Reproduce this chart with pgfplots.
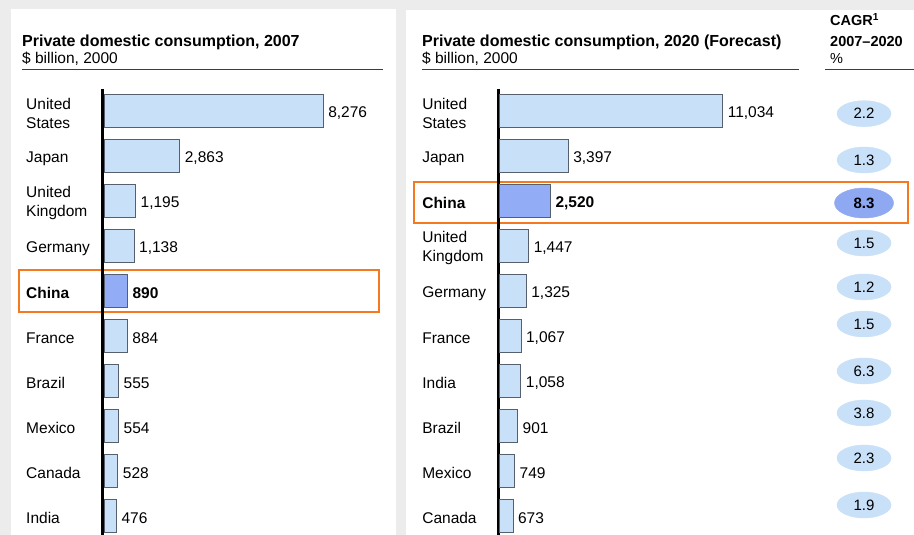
\documentclass[border=0pt]{standalone}
\usepackage{fontspec}
\setmainfont{Liberation Sans}
\usepackage{pgfplots}
\usepackage{pgfplotstable}
\pgfplotsset{compat=1.18}
\definecolor{bgray}{RGB}{236,236,236}
\definecolor{barblue}{RGB}{200,224,248}
\definecolor{chinablue}{RGB}{146,172,246}
\definecolor{baredge}{RGB}{85,95,110}
\definecolor{obox}{RGB}{244,121,32}
\definecolor{ell}{RGB}{200,224,248}
\definecolor{ellc}{RGB}{143,168,242}
\definecolor{rulec}{RGB}{60,60,60}

\pgfplotstableread{
v r lab
8276 0 8,276
2863 1 2,863
1195 2 1,195
1138 3 1,138
884 5 884
555 6 555
554 7 554
528 8 528
476 9 476
}\lefttab
\pgfplotstableread{
v r lab
890 4 890
}\leftchina
\pgfplotstableread{
v r lab
11034 0 11,034
3397 1 3,397
1447 3 1,447
1325 4 1,325
1067 5 1,067
1058 6 1,058
901 7 901
749 8 749
673 9 673
}\righttab
\pgfplotstableread{
v r lab
2520 2 2,520
}\rightchina
\pgfplotstableread{
x r lab
0 0.053 2.2
0 1.082 1.3
0 2.927 1.5
0 3.904 1.2
0 4.727 1.5
0 5.771 6.3
0 6.704 3.8
0 7.704 2.3
0 8.749 1.9
}\cagrtab
\pgfplotstableread{
x r lab
0 2.038 8.3
}\cagrchina

\newcommand{\lblfont}{\fontsize{15.5bp}{18.7bp}\selectfont}
\pgfplotsset{
  panel/.style={
    scale only axis, height=450bp,
    ymin=-0.5, ymax=9.5, y dir=reverse,
    xbar, bar width=32.7bp, bar shift=0pt,
    axis x line=none, axis y line*=left,
    y axis line style={line width=3bp, black},
    ytick={0,...,9}, major tick length=0pt,
    yticklabel style={anchor=west, align=left, font=\lblfont, yshift=-2bp},
    clip=false,
    nodes near coords, point meta=explicit symbolic,
  },
  normalbar/.style={fill=barblue, draw=baredge, line width=1bp,
    every node near coord/.append style={font=\lblfont, black, anchor=west, inner sep=4.5bp, yshift=-2bp}},
  chinabar/.style={fill=chinablue, draw=baredge, line width=1bp,
    every node near coord/.append style={font=\lblfont\bfseries, black, anchor=west, inner sep=4.5bp, yshift=-2bp}},
}

\begin{document}
\begin{tikzpicture}[x=1bp,y=1bp]
\useasboundingbox (0,0) rectangle (914,535);
\fill[bgray] (0,0) rectangle (914,535);
\fill[white] (11,0) rectangle (396,526);
\fill[white] (406,0) rectangle (914,525);

% titles
\node[anchor=base west, inner sep=0pt, font=\fontsize{16bp}{18bp}\selectfont\bfseries] at (22,488.3) {Private domestic consumption, 2007};
\node[anchor=base west, inner sep=0pt, font=\fontsize{15.5bp}{18bp}\selectfont] at (22,471.5) {\$ billion, 2000};
\draw[rulec, line width=1bp] (22,465) -- (383,465);

\node[anchor=base west, inner sep=0pt, font=\fontsize{16bp}{18bp}\selectfont\bfseries] at (422,488.3) {Private domestic consumption, 2020 (Forecast)};
\node[anchor=base west, inner sep=0pt, font=\fontsize{15.5bp}{18bp}\selectfont] at (422,471.5) {\$ billion, 2000};
\draw[rulec, line width=1bp] (422,465) -- (799,465);

\node[anchor=base west, inner sep=0pt, font=\fontsize{14.5bp}{18bp}\selectfont\bfseries] at (830,509.5) {CAGR\textsuperscript{1}};
\node[anchor=base west, inner sep=0pt, font=\fontsize{14.5bp}{18bp}\selectfont\bfseries] at (830,488.3) {2007–2020};
\node[anchor=base west, inner sep=0pt, font=\fontsize{14.5bp}{18bp}\selectfont] at (830,471.5) {\%};
\draw[rulec, line width=1bp] (825,465) -- (914,465);

% highlight boxes
\draw[obox, line width=1.5bp] (19,265) rectangle (379,223);
\draw[obox, line width=1.5bp] (414,353) rectangle (908,312);

% left panel
\begin{axis}[panel,
  at={(102.7bp,446.2bp)}, anchor=north west,
  width=266.3bp, xmin=-49, xmax=10000,
  yticklabels={{United\\States},Japan,{United\\Kingdom},Germany,\textbf{China},France,Brazil,Mexico,Canada,India},
  yticklabel style={xshift=-80bp},
]
\addplot[normalbar] table[x=v, y=r, meta=lab] {\lefttab};
\addplot[chinabar] table[x=v, y=r, meta=lab] {\leftchina};
\end{axis}

% right panel
\begin{axis}[panel,
  at={(498bp,446.2bp)}, anchor=north west,
  width=284.86bp, xmin=-74, xmax=14000,
  yticklabels={{United\\States},Japan,\textbf{China},{United\\Kingdom},Germany,France,India,Brazil,Mexico,Canada},
  yticklabel style={xshift=-79.2bp},
]
\addplot[normalbar] table[x=v, y=r, meta=lab] {\righttab};
\addplot[chinabar] table[x=v, y=r, meta=lab] {\rightchina};
\end{axis}

% CAGR column
\begin{axis}[
  scale only axis, width=54bp, height=450bp,
  at={(837bp,446.2bp)}, anchor=north west,
  xmin=-1, xmax=1, ymin=-0.5, ymax=9.5, y dir=reverse,
  hide axis, clip=false,
  nodes near coords, point meta=explicit symbolic,
  nodes near coords align=center,
]
\addplot[only marks, mark=*, mark size=13bp, draw=ell, fill=ell,
  mark options={xscale=2.08, fill=ell, draw=ell},
  every node near coord/.append style={font=\fontsize{15bp}{18bp}\selectfont, black, anchor=center}]
  table[x=x, y=r, meta=lab] {\cagrtab};
\addplot[only marks, mark=*, mark size=15bp, draw=ellc, fill=ellc,
  mark options={xscale=1.97, fill=ellc, draw=ellc},
  every node near coord/.append style={font=\fontsize{15bp}{18bp}\selectfont\bfseries, black, anchor=center}]
  table[x=x, y=r, meta=lab] {\cagrchina};
\end{axis}
\end{tikzpicture}
\end{document}
